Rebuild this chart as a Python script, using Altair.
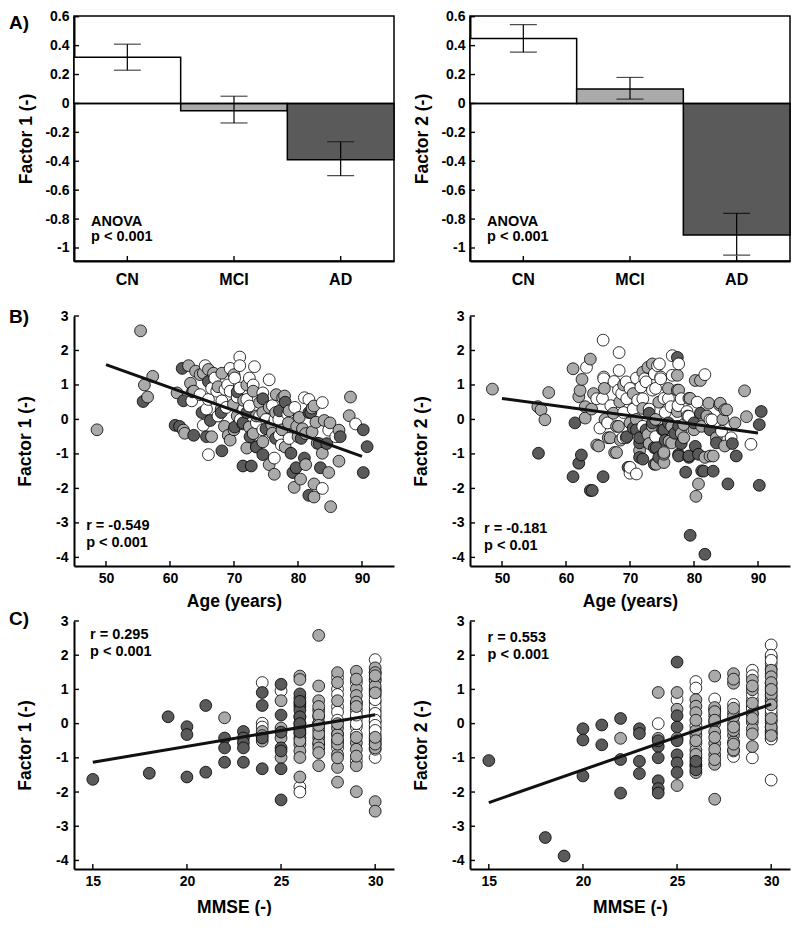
import altair as alt
import pandas as pd

# ---------------- data ----------------
GROUPS = ["CN", "MCI", "AD"]
F1_MEAN = [0.32, -0.05, -0.39]
F1_LO = [0.23, -0.135, -0.50]
F1_HI = [0.41, 0.05, -0.265]
F2_MEAN = [0.45, 0.10, -0.91]
F2_LO = [0.355, 0.03, -1.05]
F2_HI = [0.545, 0.18, -0.76]

# Panel B left: (age, factor 1)
B1_CN = [(65.5, 1.56), (69.4, 1.48), (70.9, 1.81), (70.9, 1.56), (73.2, 1.53), (70.1, 1.2), (72.4, 1.2),
         (75.5, 1.15), (68.6, 0.87), (69.4, 0.82), (67.3, 0.82), (70.9, 0.91), (74.5, 0.77), (63.4, 0.54),
         (64.7, 0.72), (66.0, 0.58), (68.1, 0.54), (68.8, 0.35), (72.0, 0.58), (72.4, 0.39), (81.7, 0.58),
         (83.8, 0.49), (89.0, -0.13), (65.2, -0.17), (66.0, -1.02), (76.3, -1.12), (77.1, -0.46), (77.4, -0.74),
         (78.6, -0.55), (83.8, -2.0), (84.8, -0.31), (85.9, -0.5), (81.0, 0.63), (65.7, 0.3), (78.4, 0.15),
         (76.4, 0.0), (71.5, 0.3), (74.0, 0.1), (67.0, 1.2), (74.5, -0.3), (66.5, 0.9),
         (69.0, 1.0), (70.5, 0.65), (73.0, 1.0), (71.0, 0.0), (75.0, 0.0), (77.0, 0.0), (73.5, -0.1),
         (76.0, 0.4), (67.5, 0.1), (79.5, 0.35)]
B1_MCI = [(48.6, -0.3), (55.4, 2.57), (56.0, 1.0), (57.3, 1.25), (56.5, 0.65), (62.9, 1.56), (65.2, 1.34),
          (66.8, 1.34), (63.2, 1.05), (68.1, 1.34), (73.0, 0.82), (76.6, 0.72), (77.6, 0.63), (77.9, 0.68),
          (61.1, 0.77), (69.9, 0.44), (74.0, 0.49), (75.5, 0.35), (78.6, 0.25), (82.5, 0.39), (88.2, 0.65),
          (88.0, 0.11), (62.1, -0.31), (62.3, -0.4), (69.1, -0.46), (69.4, -0.6), (71.4, -0.13), (72.4, -0.22),
          (73.0, -0.41), (72.0, -0.83), (73.5, -0.79), (74.5, -0.65), (75.5, -1.31), (76.3, -1.59), (79.4, -1.97),
          (80.4, -1.73), (80.2, 0.06), (80.7, -0.27), (81.2, -0.41), (81.2, -1.31), (82.2, -0.36), (82.8, -0.08),
          (84.8, -1.54), (83.8, -0.98), (84.1, -0.03), (86.4, -0.31), (86.4, -1.21), (82.5, -1.87), (85.1, -2.53),
          (83.0, -0.69), (82.5, -2.25), (64.7, 1.3), (63.7, 0.82), (68.0, 0.3), (75.9, -0.16), (70.5, 0.1),
          (76.5, 0.2), (82.2, 0.33), (66.5, -0.5), (79.8, -0.2),
          (64.0, 1.4), (66.0, 1.45), (67.5, 0.95), (70.0, 1.3), (71.5, 0.55), (72.0, 1.0), (74.5, 0.2),
          (76.0, -0.4), (77.5, -0.3), (78.5, -0.1), (80.0, -0.5), (78.0, -0.8), (70.0, -0.3), (68.5, -0.2),
          (85.0, -0.1), (73.5, 0.1)]
B1_AD = [(55.8, 0.52), (61.9, 1.48), (66.0, 1.10), (62.1, 0.54), (77.1, 0.25), (81.7, 0.2), (90.2, -0.3),
         (90.8, -0.79), (90.2, -1.54), (60.8, -0.17), (61.5, -0.2), (63.7, -0.46), (65.7, -0.5), (66.3, -0.03),
         (68.1, -0.91), (70.1, -0.22), (74.5, -1.02), (71.4, -1.35), (72.7, -1.35), (78.9, -0.98), (79.2, -1.54),
         (79.7, -1.4), (81.0, -1.12), (83.5, -1.4), (86.6, -0.5), (81.7, -2.2), (75.0, -0.27), (83.3, -0.7),
         (82.0, 0.2), (71.4, -0.1), (74.5, 0.6), (72.5, -0.5),
         (63.5, 0.8), (65.0, 0.2), (68.0, 0.2), (70.5, 0.8), (72.0, 0.2), (73.5, -0.8), (76.5, -0.55),
         (78.0, 0.5), (80.5, -0.55), (84.5, -0.7)]

# Panel B right: (age, factor 2)
B2_CN = [(63.2, 1.51), (64.8, 0.6), (65.8, 2.3), (65.9, 1.23), (65.7, 0.61), (65.3, -0.25), (68.3, 1.94),
         (68.3, 1.42), (68.2, 0.85), (69.4, 1.09), (69.4, -0.53), (70.0, -1.56), (71.0, -1.58), (71.2, 0.56),
         (71.7, 0.94), (72.3, 1.18), (73.5, 0.85), (73.8, 1.32), (74.6, 1.61), (74.8, 1.23), (76.6, 1.28),
         (76.4, 0.37), (76.6, 1.85), (77.6, 1.61), (78.9, 0.23), (81.7, 1.3), (82.5, -0.01), (84.3, -0.34),
         (85.8, -0.53), (88.9, -0.72), (65.9, 1.18), (68.7, 0.75), (72.5, 1.09), (74.3, 1.56), (74.8, 1.18),
         (75.3, 0.61), (79.2, 0.09), (82.8, -0.01), (68.9, -0.53), (70.0, -1.39), (67.0, 0.4), (70.5, 0.3),
         (73.0, 0.3), (75.5, 0.2), (66.5, -0.1), (77.5, 0.4), (71.0, 1.2), (69.5, 0.6),
         (67.5, 1.1), (70.0, 0.9), (72.0, 0.6), (74.0, 0.9), (76.0, 0.6), (78.0, 0.6), (69.0, 0.2),
         (72.0, -0.2), (74.0, -0.5), (80.5, 0.5)]
B2_MCI = [(48.5, 0.88), (55.6, 0.37), (56.1, 0.28), (56.7, -0.01), (57.3, 0.78), (61.1, 1.47), (62.5, 1.16),
          (62.2, 0.84), (62.0, 0.66), (63.0, 0.37), (63.0, 0.04), (63.8, 1.75), (64.8, -0.74), (64.3, 0.75),
          (66.6, -0.53), (67.4, 0.18), (67.6, -0.96), (68.4, 0.51), (68.2, -0.2), (72.0, 1.37), (72.8, 1.51),
          (75.3, -1.25), (75.3, -1.01), (76.5, -0.68), (77.4, 1.28), (77.4, 0.85), (77.4, 0.23), (78.4, -0.53),
          (79.4, 0.61), (80.2, 1.13), (81.0, 1.13), (80.7, -1.87), (80.3, -2.23), (81.2, -0.2), (82.3, 0.47),
          (82.5, -1.06), (84.0, 0.42), (84.8, 0.28), (83.5, -0.53), (86.4, -0.1), (87.9, 0.83), (88.2, 0.08),
          (70.5, 0.75), (73.5, 1.61), (77.6, 0.85), (79.2, 0.61), (84.1, 0.47), (85.1, 0.28), (84.8, -0.77),
          (83.0, -1.06), (81.7, -1.1), (76.1, -0.63), (75.3, -0.96), (74.1, -1.3), (72.8, -0.44), (67.9, -0.2),
          (66.9, -0.53), (65.1, -0.77), (66.1, 0.0), (67.9, -0.96), (78.4, -0.15), (72.0, 0.32), (74.5, 0.5),
          (70.0, -0.1), (73.5, -0.2),
          (64.0, 0.3), (66.0, 0.9), (69.0, 1.0), (71.0, 0.0), (73.0, -0.7), (74.0, 0.0), (76.0, 0.9),
          (78.0, -0.4), (80.0, -0.3), (82.0, 0.1), (84.5, 0.0), (71.5, -0.9), (68.5, -0.6), (76.5, -0.2),
          (79.0, 0.1)]
B2_AD = [(55.7, -0.98), (61.4, -0.1), (61.1, -1.66), (62.0, -1.27), (62.4, -1.03), (63.8, -2.06), (64.1, -2.06),
         (65.8, -1.66), (69.7, -1.39), (71.5, -1.1), (71.5, -0.68), (73.8, -1.3), (74.1, -0.82), (75.3, -0.3),
         (77.4, 1.8), (77.6, -0.2), (77.6, -1.01), (79.2, -1.1), (78.7, -1.53), (79.4, -3.36), (80.2, -0.78),
         (81.0, 0.18), (81.5, -1.5), (81.7, -3.91), (83.0, -1.5), (83.5, -0.68), (85.3, -1.87), (86.6, -1.06),
         (90.5, 0.23), (90.2, -0.15), (90.2, -1.91), (80.7, -1.01), (79.2, -1.06), (77.6, -1.06), (75.1, -0.3),
         (73.8, -0.82), (72.0, -1.15), (71.5, -0.53), (70.5, -0.25), (73.0, 0.18), (81.2, -1.49), (76.0, -0.1),
         (72.5, -0.3),
         (69.5, -0.5), (71.0, -0.3), (73.5, -0.1), (75.5, -0.6), (77.0, -0.4), (78.0, -0.7), (80.0, -0.1),
         (82.5, -0.3), (86.0, -0.7), (74.5, -1.1)]

# Panel C left: (MMSE, factor 1)
C1_CN = [(24, 1.20), (24, 0.01), (24, -0.1), (25, 0.96), (26, -1.85), (26, -2.0), (27, 0.20), (27, 0.0),
         (28, 1.35), (28, 1.01), (28, 0.49), (28, 0.34), (28, 0.10), (28, -0.51), (28, -0.71), (29, 1.2),
         (29, 0.39), (29, 0.15), (29, -0.09), (29, -0.32), (29, -1.09), (29, 0.0), (30, 1.87), (30, 1.01),
         (30, 0.82), (30, 0.63), (30, 0.39), (30, 0.20), (30, 0.06), (30, -0.13), (30, -0.32), (30, -0.99),
         (30, 0.5), (30, -0.45),
         (27, -0.6), (28, 0.85), (28, -0.3), (29, 0.25), (29, 0.6), (30, 1.5), (30, 1.3), (30, 0.95),
         (30, 0.7), (30, 0.3), (30, 0.1), (30, -0.05), (30, -0.2), (30, -0.6), (30, -0.75)]
C1_MCI = [(22, 0.17), (24, -0.23), (24, -0.51), (24, -0.35), (25, 0.67), (25, -0.13), (25, -0.42), (25, -0.99),
          (26, 1.39), (26, 1.29), (26, 0.01), (26, -0.18), (26, -0.42), (26, -0.61), (26, -0.8), (26, -0.99),
          (26, -1.56), (26, -0.3), (27, 2.58), (27, 1.10), (27, 0.67), (27, 0.39), (27, 0.01), (27, -0.18),
          (27, -0.42), (27, -0.56), (27, -0.71), (27, -1.23), (27, -0.3), (28, 1.49), (28, 0.67), (28, -0.13),
          (28, -0.32), (28, -0.9), (28, -1.28), (28, -1.71), (28, -0.6), (29, 1.53), (29, 1.01), (29, 0.82),
          (29, 0.63), (29, -0.56), (29, -1.23), (29, -1.99), (29, -0.75), (30, 1.63), (30, 1.49), (30, 1.25),
          (30, -0.51), (30, -0.71), (30, -2.28), (30, -2.56), (30, -0.6), (30, 1.1),
          (26, 0.2), (26, 0.5), (26, 0.75), (26, -0.1), (26, -0.5), (27, 0.5), (27, 0.25), (27, -0.05),
          (27, -0.85), (28, 1.2), (28, 0.0), (28, -0.45), (28, -1.0), (29, 1.3), (29, 0.5), (29, -0.4),
          (29, -0.95), (30, 1.4), (30, 0.9), (30, -0.4)]
C1_AD = [(15, -1.63), (18, -1.45), (19, 0.20), (20, -0.09), (20, -0.32), (20, -1.56), (21, 0.53), (21, -1.42),
         (22, -0.42), (22, -0.71), (22, -1.13), (23, -0.23), (23, -0.42), (23, -0.56), (23, -0.71), (23, -1.13),
         (24, 0.91), (24, 0.53), (24, -0.42), (24, -1.32), (25, 1.15), (25, 0.25), (25, -0.71), (25, -0.8),
         (25, -1.32), (25, -2.23), (25, -0.25), (26, 0.87), (26, 0.58), (26, 0.39), (26, 0.20), (26, 0.65),
         (26, 0.0), (26, -0.25)]

# Panel C right: (MMSE, factor 2)
C2_CN = [(24, 0.0), (25, 0.7), (26, 1.23), (26, 1.04), (26, -0.06), (26, -0.58), (27, 0.72), (27, 0.1),
         (28, 0.56), (28, -0.96), (29, 1.56), (29, 0.7), (29, 0.47), (29, -1.0), (29, 0.3), (30, 2.3),
         (30, 1.94), (30, 1.75), (30, 1.18), (30, 0.94), (30, 0.51), (30, 0.23), (30, -0.43), (30, -1.65),
         (30, 1.6), (30, 0.3), (30, -0.3), (30, 0.8),
         (27, 0.4), (28, -0.8), (29, 0.45), (29, 1.4), (29, 0.85), (30, 2.0), (30, 1.85), (30, 1.45),
         (30, 1.05), (30, 0.65), (30, 0.4), (30, 0.1), (30, -0.1), (30, -0.25), (30, -0.45)]
C2_MCI = [(22, -0.43), (24, 0.91), (24, -0.43), (25, 0.91), (25, 0.42), (25, -0.43), (25, -1.81), (26, 0.7),
          (26, 0.51), (26, 0.32), (26, -0.34), (26, -0.77), (26, -1.0), (26, -1.43), (26, -0.2), (27, 1.39),
          (27, 0.47), (27, 0.23), (27, 0.0), (27, -0.24), (27, -0.58), (27, -0.91), (27, -1.19), (27, -2.21),
          (27, 0.35), (28, 1.46), (28, 1.18), (28, 0.32), (28, 0.0), (28, -0.34), (28, -0.53), (28, -0.77),
          (28, -0.2), (29, 1.27), (29, 0.99), (29, 0.28), (29, 0.04), (29, -0.15), (29, -0.67), (29, 1.1),
          (30, 1.56), (30, 1.37), (30, 0.7), (30, 0.04), (30, -0.2), (30, 0.85), (30, -0.1),
          (26, 0.1), (26, -0.5), (26, -0.9), (26, -1.2), (27, -0.4), (27, -0.75), (27, 0.1), (27, -1.05),
          (28, 0.2), (28, -0.1), (28, -0.6), (28, 1.3), (28, 0.45), (29, 0.15), (29, -0.3), (29, 0.6),
          (30, 1.2), (30, 0.55), (30, 0.15), (30, -0.35), (30, 1.0)]
C2_AD = [(15, -1.08), (18, -3.33), (19, -3.87), (20, -0.15), (20, -0.48), (20, -1.53), (21, -0.04), (21, -0.62),
         (22, 0.15), (22, -1.05), (22, -2.03), (23, -0.15), (23, -0.29), (23, -1.1), (23, -1.46), (24, -0.67),
         (24, -1.0), (24, -1.67), (24, -1.9), (24, -2.03), (24, -0.5), (25, 1.8), (25, 0.23), (25, -0.1),
         (25, -0.91), (25, -1.15), (25, -1.43), (25, -0.5), (26, -1.24), (26, -1.35), (26, -1.1)]

# regression line end points (x, y)
B1_LINE = [(50, 1.59), (90, -1.07)]
B2_LINE = [(50, 0.61), (90, -0.39)]
C1_LINE = [(15, -1.13), (30, 0.26)]
C2_LINE = [(15, -2.31), (30, 0.57)]

# annotations (text, x, y)
B1_ANN = [("r = -0.549", 46.9, -3.1), ("p < 0.001", 46.9, -3.57)]
B2_ANN = [("r = -0.181", 47.2, -3.18), ("p < 0.01", 47.2, -3.66)]
C1_ANN = [("r = 0.295", 14.85, 2.58), ("p < 0.001", 14.85, 2.1)]
C2_ANN = [("r = 0.553", 14.93, 2.5), ("p < 0.001", 14.93, 2.02)]
A_ANN = [("ANOVA", -0.82), ("p < 0.001", -0.925)]

A_YTICKS = [-1, -0.8, -0.6, -0.4, -0.2, 0, 0.2, 0.4, 0.6]
S_YTICKS = [-4, -3, -2, -1, 0, 1, 2, 3]
AGE_TICKS = [50, 60, 70, 80, 90]
MMSE_TICKS = [15, 20, 25, 30]

# ---------------- style ----------------
FONT = "Liberation Sans"
W = 320
HA, HB, HC = 245, 250, 248
BAR_COLORS = ["#ffffff", "#aaaaaa", "#5a5a5a"]
PT_COLORS = ["#ffffff", "#9c9c9c", "#4d4d4d"]
LABEL_EXPR = "(datum.value < 0 ? '-' : '') + format(abs(datum.value), '~g')"
TICK_LEN = 5


def panel_label(text, dy):
    return alt.Chart(pd.DataFrame({"t": [text]})).mark_text(
        align="left", baseline="middle", fontSize=19, fontWeight="bold", font=FONT, color="black"
    ).encode(text="t:N", x=alt.value(-65), y=alt.value(dy))


def y_ticks(values):
    return alt.Chart(pd.DataFrame({"y": values})).mark_rule(color="black", strokeWidth=1.4).encode(
        y="y:Q", x=alt.value(0), x2=alt.value(TICK_LEN))


def bar_panel(means, los, his, ytitle, label=None):
    df = pd.DataFrame({"grp": GROUPS, "y": means, "lo": los, "hi": his, "z": [0, 0, 0]})
    xs = alt.Scale(domain=GROUPS, paddingInner=0, paddingOuter=0)
    ys = alt.Scale(domain=[-1.09, 0.605], nice=False, zero=False)
    xax = alt.Axis(title=None, labelAngle=0, labelFontSize=16, labelPadding=10, ticks=False, domainWidth=2)
    yax = alt.Axis(title=ytitle, values=A_YTICKS, tickCount=20, labelExpr=LABEL_EXPR, ticks=False,
                   labelPadding=5, titlePadding=9, domainWidth=2, labelOverlap=False, labelFlush=False)
    bars = alt.Chart(df).mark_bar(stroke="black", strokeWidth=1.5, opacity=1).encode(
        x=alt.X("grp:N", sort=GROUPS, scale=xs, axis=xax),
        y=alt.Y("y:Q", scale=ys, axis=yax),
        y2="z:Q",
        color=alt.Color("grp:N", scale=alt.Scale(domain=GROUPS, range=BAR_COLORS), legend=None),
    )
    zero = alt.Chart(pd.DataFrame({"y": [0]})).mark_rule(color="black", strokeWidth=1.5).encode(y="y:Q")
    err = alt.Chart(df).mark_rule(color="black", strokeWidth=1.2).encode(
        x=alt.X("grp:N", sort=GROUPS), y="lo:Q", y2="hi:Q")
    cap_lo = alt.Chart(df).mark_tick(color="black", size=27, thickness=1.2, orient="horizontal").encode(
        x=alt.X("grp:N", sort=GROUPS), y="lo:Q")
    cap_hi = alt.Chart(df).mark_tick(color="black", size=27, thickness=1.2, orient="horizontal").encode(
        x=alt.X("grp:N", sort=GROUPS), y="hi:Q")
    xtk = alt.Chart(pd.DataFrame({"grp": GROUPS})).mark_rule(color="black", strokeWidth=1.4).encode(
        x=alt.X("grp:N", sort=GROUPS), y=alt.value(HA), y2=alt.value(HA - TICK_LEN))
    ann = alt.Chart(pd.DataFrame({"t": [a[0] for a in A_ANN], "y": [a[1] for a in A_ANN]})).mark_text(
        align="left", baseline="middle", fontSize=14.5, fontWeight="bold", font=FONT, color="black"
    ).encode(text="t:N", y="y:Q", x=alt.value(17))
    layers = [bars, zero, err, cap_lo, cap_hi, y_ticks(A_YTICKS), xtk, ann]
    if label:
        layers.append(panel_label(label, 7))
    return alt.layer(*layers).properties(
        width=W, height=HA, view=alt.ViewBackground(stroke="black", strokeWidth=1.5))


def scatter_panel(cn, mci, ad, line, ann, xdom, xticks, xtitle, ytitle, H, title_pad, label=None, label_dy=0):
    rows = [(x, y, "CN") for x, y in cn] + [(x, y, "MCI") for x, y in mci] + [(x, y, "AD") for x, y in ad]
    df = pd.DataFrame(rows, columns=["x", "y", "grp"]).sort_values("x", kind="stable")
    xs = alt.Scale(domain=xdom, nice=False, zero=False)
    ys = alt.Scale(domain=[-4.25, 3], nice=False, zero=False)
    xax = alt.Axis(title=xtitle, values=xticks, tickCount=20, labelExpr=LABEL_EXPR, ticks=False,
                   labelPadding=5, titlePadding=title_pad, domainWidth=2, labelFontSize=14,
                   labelOverlap=False, labelFlush=False)
    yax = alt.Axis(title=ytitle, values=S_YTICKS, tickCount=20, labelExpr=LABEL_EXPR, ticks=False,
                   labelPadding=6, titlePadding=21, domainWidth=2, labelOverlap=False, labelFlush=False)
    pts = alt.Chart(df).mark_circle(size=140, stroke="black", strokeWidth=0.8, opacity=1).encode(
        x=alt.X("x:Q", scale=xs, axis=xax),
        y=alt.Y("y:Q", scale=ys, axis=yax),
        color=alt.Color("grp:N", scale=alt.Scale(domain=GROUPS, range=PT_COLORS), legend=None),
    )
    ln = alt.Chart(pd.DataFrame(line, columns=["x", "y"])).mark_line(color="#111111", strokeWidth=3).encode(
        x="x:Q", y="y:Q")
    txt = alt.Chart(pd.DataFrame(ann, columns=["t", "x", "y"])).mark_text(
        align="left", baseline="middle", fontSize=14.5, fontWeight="bold", font=FONT, color="black"
    ).encode(text="t:N", x="x:Q", y="y:Q")
    xtk = alt.Chart(pd.DataFrame({"x": xticks})).mark_rule(color="black", strokeWidth=1.4).encode(
        x="x:Q", y=alt.value(H), y2=alt.value(H - TICK_LEN))
    layers = [pts, ln, txt, y_ticks(S_YTICKS), xtk]
    if label:
        layers.append(panel_label(label, label_dy))
    return alt.layer(*layers).properties(width=W, height=H)


A1 = bar_panel(F1_MEAN, F1_LO, F1_HI, "Factor 1 (-)", "A)")
A2 = bar_panel(F2_MEAN, F2_LO, F2_HI, "Factor 2 (-)")
B1 = scatter_panel(B1_CN, B1_MCI, B1_AD, B1_LINE, B1_ANN, [45, 95], AGE_TICKS, "Age (years)", "Factor 1 (-)",
                   HB, 7, "B)", 1)
B2 = scatter_panel(B2_CN, B2_MCI, B2_AD, B2_LINE, B2_ANN, [45, 95], AGE_TICKS, "Age (years)", "Factor 2 (-)",
                   HB, 7)
C1 = scatter_panel(C1_CN, C1_MCI, C1_AD, C1_LINE, C1_ANN, [14, 31], MMSE_TICKS, "MMSE (-)", "Factor 1 (-)",
                   HC, 10, "C)", -2)
C2 = scatter_panel(C2_CN, C2_MCI, C2_AD, C2_LINE, C2_ANN, [14, 31], MMSE_TICKS, "MMSE (-)", "Factor 2 (-)",
                   HC, 10)

chart = alt.concat(
    A1, A2, B1, B2, C1, C2, columns=2, spacing={"row": 55, "column": 76}, bounds="flush"
).properties(
    padding=0, background="white"
).configure_view(stroke=None).configure_axis(
    labelFont=FONT, labelFontWeight="bold", labelColor="black", labelFontSize=14,
    titleFont=FONT, titleFontWeight="bold", titleColor="black", titleFontSize=17.5,
    domainColor="black", grid=False, labelOverlap=False,
)

chart.save("out.html", embed_options={"renderer": "svg", "actions": False})
